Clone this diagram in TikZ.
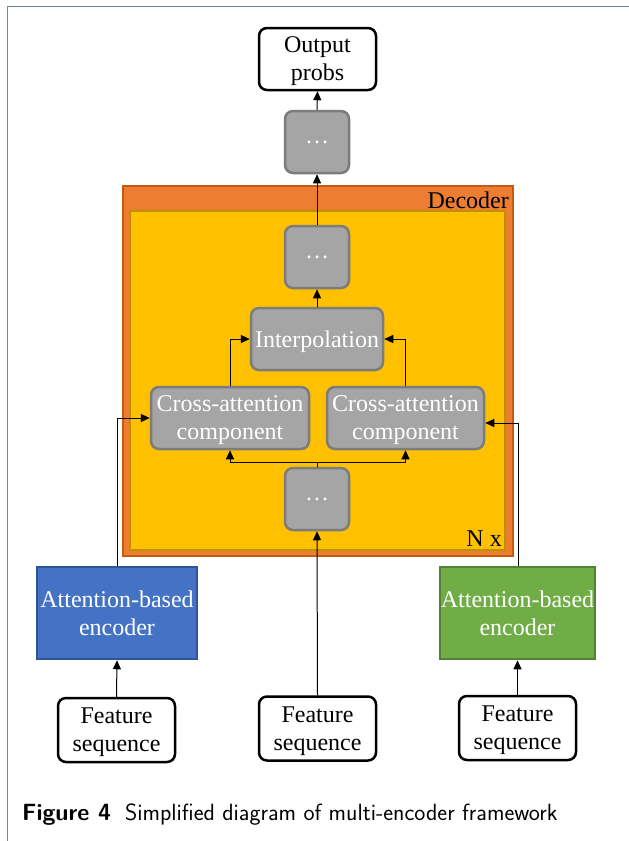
\documentclass[tikz,border=0pt]{standalone}
\usepackage{fontspec}
\setmainfont{Liberation Serif}
\usetikzlibrary{arrows.meta}
\definecolor{framec}{HTML}{6A86AE}
\definecolor{grayfill}{HTML}{A5A5A5}
\definecolor{grayedge}{HTML}{7C7C7C}
\definecolor{orfill}{HTML}{ED7D31}
\definecolor{oredge}{HTML}{C55A11}
\definecolor{yefill}{HTML}{FFC000}
\definecolor{yeedge}{HTML}{BF9000}
\definecolor{blfill}{HTML}{4472C4}
\definecolor{bledge}{HTML}{2F5597}
\definecolor{grfill}{HTML}{70AD47}
\definecolor{gredge}{HTML}{548235}
\tikzset{
  txt/.style={font=\fontsize{24}{28}\selectfont, align=center, inner sep=0pt},
  boxtxt/.style={txt, text depth=0pt},
  whitebox/.style={boxtxt, draw=black, line width=2.5pt, fill=white, rounded corners=8pt},
  graybox/.style={boxtxt, draw=grayedge, line width=2.5pt, fill=grayfill, text=white, rounded corners=8pt},
  encbox/.style={boxtxt, line width=2.5pt, text=white},
  conn/.style={line width=1pt, -{Triangle[length=9pt,width=8pt]}},
  plain/.style={line width=1pt}
}
\begin{document}
\begin{tikzpicture}[x=1pt,y=-1pt]
\useasboundingbox (0,0) rectangle (629,841);
\fill[white] (0,0) rectangle (629,841);
% page frame
\draw[framec, line width=1.3pt] (7.5,841) -- (7.5,6.5) -- (629,6.5);

% decoder frames
\node[draw=oredge, fill=orfill, line width=2.5pt, minimum width=390pt, minimum height=370pt, inner sep=0pt] (dec) at (318,371) {};
\node[draw=yeedge, fill=yefill, line width=2.5pt, minimum width=375pt, minimum height=339pt, inner sep=0pt] (layer) at (317.5,380.5) {};
\node[txt, anchor=base east] (declab) at (509,208) {Decoder};
\node[txt, anchor=base east] (nx) at (502,546) {N x};

% nodes
\node[whitebox, minimum width=117pt, minimum height=62pt] (out) at (317.5,59) {Output\\probs};
\node[graybox, minimum width=64pt, minimum height=62pt] (g1) at (317,142) {\dots};
\node[graybox, minimum width=64pt, minimum height=62pt] (g2) at (317,257) {\dots};
\node[graybox, minimum width=132pt, minimum height=62pt] (interp) at (317,339) {Interpolation};
\node[graybox, minimum width=158pt, minimum height=62pt] (cal) at (230,418) {Cross-attention\\component};
\node[graybox, minimum width=157pt, minimum height=62pt] (car) at (405.5,418) {Cross-attention\\component};
\node[graybox, minimum width=64pt, minimum height=62pt] (g3) at (317,499) {\dots};

\node[encbox, draw=bledge, fill=blfill, minimum width=160pt, minimum height=92pt] (encl) at (117,613) {Attention-based\\encoder};
\node[encbox, draw=gredge, fill=grfill, minimum width=155pt, minimum height=92pt] (encr) at (517.5,613) {Attention-based\\encoder};

\node[whitebox, minimum width=117pt, minimum height=64pt] (fl) at (116.5,730) {Feature\\sequence};
\node[whitebox, minimum width=117pt, minimum height=64pt] (fc) at (317.5,728.5) {Feature\\sequence};
\node[whitebox, minimum width=117pt, minimum height=64pt] (fr) at (517.5,728) {Feature\\sequence};

% caption
\node[anchor=base west, inner sep=0pt, font=\sffamily\fontsize{23.5}{26}\selectfont] (cap) at (22,820) {\textbf{Figure 4}\hspace{0.6em}Simplified diagram of multi-encoder framework};

% connectors
\coordinate (split) at (317,462);
\draw[plain] (g3.north) -- (split);
\draw[conn] (split) -| (cal.south);
\draw[conn] (split) -| (car.south);
\draw[conn] (cal.north) |- (interp.west);
\draw[conn] (car.north) |- (interp.east);
\draw[conn] (interp.north) -- (g2.south);
\draw[conn] (g2.north) -- (g1.south);
\draw[conn] (g1.north) -- (out.south);
\draw[conn] (fc.north) -- (g3.south);
\draw[conn] (fl.north) -- (encl.south);
\draw[conn] (fr.north) -- (encr.south);
\draw[conn] (encl.north) |- (cal.west);
\draw[conn] ([xshift=0.5pt]encr.north) |- ([yshift=-5pt]car.east);
\end{tikzpicture}
\end{document}
